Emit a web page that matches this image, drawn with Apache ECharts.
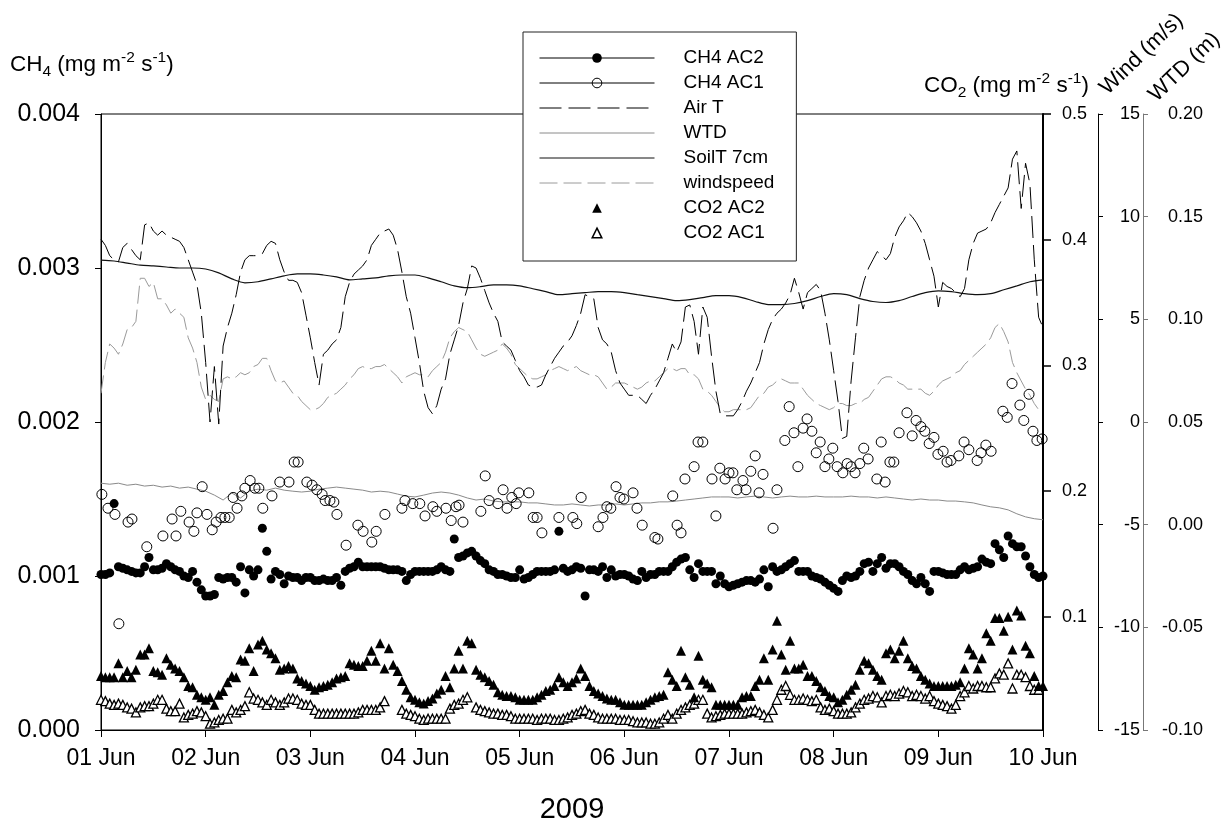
<!DOCTYPE html>
<html>
<head>
<meta charset="utf-8">
<title>CH4 and CO2 fluxes, 01-10 June 2009</title>
<script src="https://cdn.jsdelivr.net/npm/echarts@6/dist/echarts.min.js"></script>
<style>
  html, body { margin: 0; background: #fff; }
  #chart { width: 1221px; height: 829px; }
</style>
</head>
<body>
<div id="chart"></div>
<script>
// x is hours since 01 Jun 2009 00:00 (216 h = 10 Jun 00:00)
const DAY_LABELS = ['01 Jun', '02 Jun', '03 Jun', '04 Jun', '05 Jun', '06 Jun', '07 Jun', '08 Jun', '09 Jun', '10 Jun'];
const CO2_TICKS = [0.1, 0.2, 0.3, 0.4, 0.5];

// CH4 AC2, hourly, in ug m-2 s-1 (axis is mg m-2 s-1)
const CH4_AC2 = [
  1.01, 1.01, 1.02, 1.47, 1.06, 1.05, 1.04, 1.03, 1.02, 1.02, 1.06, 1.12, 1.04, 1.04, 1.05, 1.08, 1.06, 1.04, 1.03, 1.00, 0.99, 1.03, 0.96, 0.91,
  0.87, 0.87, 0.88, 0.99, 0.98, 0.99, 0.99, 0.96, 1.06, 0.89, 1.04, 1.00, 1.04, 1.31, 1.16, 0.98, 1.03, 1.01, 0.95, 1.00, 0.99, 0.99, 0.97, 0.99,
  0.99, 0.97, 0.97, 0.98, 0.97, 0.97, 0.99, 0.94, 1.03, 1.05, 1.06, 1.09, 1.06, 1.06, 1.06, 1.06, 1.06, 1.05, 1.04, 1.04, 1.04, 1.03, 0.97, 1.01,
  1.03, 1.03, 1.03, 1.03, 1.03, 1.04, 1.06, 1.04, 1.03, 1.24, 1.12, 1.13, 1.15, 1.16, 1.13, 1.10, 1.08, 1.04, 1.03, 1.01, 1.01, 1.00, 0.99, 0.99,
  1.04, 0.98, 0.99, 1.01, 1.03, 1.03, 1.03, 1.03, 1.04, 1.29, 1.05, 1.03, 1.04, 1.06, 1.05, 0.87, 1.04, 1.04, 1.03, 1.06, 0.99, 1.04, 1.00, 1.01,
  1.01, 1.00, 0.98, 0.97, 1.03, 0.99, 1.01, 1.01, 1.03, 1.03, 1.03, 1.06, 1.09, 1.11, 1.12, 1.04, 0.99, 1.08, 1.03, 1.03, 1.03, 0.95, 1.00, 0.95,
  0.93, 0.94, 0.95, 0.96, 0.97, 0.97, 0.96, 0.98, 1.04, 0.93, 1.06, 1.03, 1.04, 1.06, 1.08, 1.10, 1.03, 1.03, 1.03, 1.00, 0.99, 0.98, 0.96, 0.94,
  0.92, 0.90, 0.97, 1.00, 0.99, 1.00, 1.03, 1.08, 1.09, 1.03, 1.08, 1.12, 1.05, 1.08, 1.08, 1.06, 1.03, 1.01, 0.97, 0.95, 0.99, 0.95, 0.90, 1.03,
  1.03, 1.02, 1.01, 1.01, 1.01, 1.04, 1.06, 1.04, 1.05, 1.06, 1.11, 1.09, 1.08, 1.21, 1.17, 1.12, 1.26, 1.21, 1.19, 1.19, 1.13, 1.06, 1.01, 0.99,
  1.00
];

// CH4 AC1, irregular samples: [hour, ug m-2 s-1]
const CH4_AC1 = [
  [0.2, 1.53], [1.6, 1.44], [3.2, 1.40], [4.1, 0.69], [6.2, 1.35], [7.1, 1.37], [10.5, 1.19], [14.2, 1.26], [16.3, 1.37], [17.2, 1.26],
  [18.3, 1.42], [20.2, 1.35], [21.3, 1.29], [22.0, 1.41], [23.2, 1.58], [24.3, 1.40], [25.5, 1.30], [26.4, 1.35], [27.5, 1.38], [28.4, 1.38],
  [29.4, 1.38], [30.3, 1.51], [31.2, 1.44], [32.3, 1.52], [33.0, 1.57], [34.2, 1.62], [35.3, 1.57], [36.2, 1.57], [37.1, 1.44], [39.2, 1.52],
  [41.0, 1.61], [43.1, 1.61], [44.3, 1.74], [45.2, 1.74], [47.2, 1.61], [48.4, 1.59], [49.5, 1.56], [50.7, 1.53], [51.4, 1.49], [52.5, 1.49],
  [53.4, 1.48], [54.1, 1.40], [56.2, 1.20], [58.9, 1.33], [60.1, 1.29], [62.1, 1.22], [63.1, 1.29], [65.1, 1.40], [69.0, 1.44], [69.7, 1.49],
  [71.5, 1.47], [73.1, 1.47], [74.3, 1.39], [76.1, 1.45], [77.0, 1.42], [79.1, 1.44], [80.3, 1.36], [81.4, 1.45], [82.1, 1.46], [83.0, 1.35],
  [87.1, 1.42], [88.1, 1.65], [89.0, 1.49], [91.0, 1.47], [92.2, 1.56], [93.1, 1.44], [94.2, 1.51], [95.2, 1.47], [95.8, 1.54], [98.1, 1.54],
  [99.1, 1.38], [100.0, 1.38], [101.1, 1.28], [105.0, 1.38], [108.2, 1.38], [109.1, 1.34], [110.1, 1.51], [114.0, 1.32], [115.1, 1.38], [116.0, 1.45],
  [116.9, 1.44], [118.1, 1.58], [119.0, 1.51], [119.9, 1.50], [122.0, 1.54], [122.9, 1.44], [124.1, 1.33], [127.0, 1.25], [127.7, 1.24], [131.1, 1.52],
  [132.1, 1.33], [133.0, 1.28], [133.9, 1.63], [136.0, 1.71], [136.9, 1.87], [138.0, 1.87], [140.1, 1.63], [141.0, 1.39], [141.9, 1.70], [143.1, 1.63],
  [144.0, 1.67], [144.9, 1.67], [145.8, 1.56], [147.2, 1.62], [147.9, 1.56], [149.0, 1.68], [150.0, 1.78], [150.9, 1.54], [151.8, 1.66], [154.1, 1.31],
  [155.0, 1.56], [156.8, 1.88], [157.8, 2.10], [158.9, 1.93], [159.8, 1.71], [161.0, 1.96], [161.9, 2.02], [163.0, 1.94], [164.0, 1.80], [164.9, 1.87],
  [166.0, 1.71], [166.9, 1.76], [167.8, 1.83], [168.8, 1.71], [170.1, 1.67], [171.1, 1.73], [172.0, 1.71], [172.9, 1.67], [174.0, 1.73], [174.9, 1.83],
  [175.9, 1.76], [177.9, 1.63], [178.9, 1.87], [179.8, 1.61], [180.9, 1.74], [181.8, 1.74], [183.0, 1.93], [184.8, 2.06], [186.0, 1.91], [186.9, 2.01],
  [188.0, 1.97], [188.9, 1.94], [189.9, 1.86], [191.0, 1.90], [191.9, 1.79], [193.1, 1.81], [194.0, 1.74], [194.9, 1.75], [196.7, 1.78], [197.9, 1.87],
  [199.0, 1.82], [200.9, 1.75], [201.8, 1.80], [202.9, 1.85], [204.1, 1.81], [206.8, 2.07], [207.8, 2.03], [208.9, 2.25], [210.7, 2.11], [211.6, 2.01],
  [212.8, 2.18], [213.7, 1.94], [214.6, 1.88], [215.8, 1.89]
];

// Air temperature, hourly, deg C (wind axis scale)
const AIR_T = [
  8.9, 8.6, 8.1, 7.9, 7.8, 8.5, 8.7, 8.4, 8.1, 7.9, 9.6, 9.7, 9.3, 9.1, 9.3, 9.1, 9.0, 8.9, 8.8, 8.5, 7.9, 7.3, 6.7, 5.3,
  2.9, 0.0, 2.7, -0.1, 3.7, 4.6, 5.3, 6.2, 7.3, 7.9, 8.1, 8.1, 8.1, 8.2, 8.6, 8.8, 8.7, 7.9, 7.3, 6.9, 6.9, 6.8, 6.3, 5.2,
  4.1, 2.9, 1.8, 3.3, 3.5, 3.8, 4.0, 4.6, 6.1, 6.8, 7.2, 7.4, 7.6, 7.9, 8.6, 8.9, 9.2, 9.3, 9.4, 9.1, 8.4, 7.3, 6.1, 5.3,
  4.1, 2.9, 1.5, 0.7, 0.4, 0.8, 1.6, 2.1, 3.3, 4.0, 4.7, 5.8, 6.5, 7.6, 7.5, 7.0, 6.4, 5.8, 5.3, 4.9, 3.9, 3.7, 3.5, 3.0,
  2.5, 2.2, 1.8, 1.7, 1.7, 1.8, 2.3, 2.7, 3.1, 3.4, 3.7, 3.9, 4.2, 4.7, 5.3, 6.2, 6.1, 6.0, 4.6, 4.0, 3.8, 3.4, 2.5, 1.9,
  1.6, 1.3, 1.3, 1.3, 1.1, 0.9, 1.3, 1.6, 2.0, 2.4, 3.1, 3.8, 3.4, 3.9, 5.6, 5.7, 4.9, 3.3, 5.6, 5.1, 3.2, 1.5, 0.4, 0.3,
  0.3, 0.3, 0.6, 1.0, 1.5, 1.9, 2.4, 2.9, 3.8, 4.5, 5.0, 5.3, 5.5, 5.8, 6.2, 7.0, 6.3, 5.5, 6.3, 6.5, 6.7, 6.4, 5.3, 4.0,
  2.5, 1.0, -0.8, -0.7, 2.0, 4.1, 6.1, 6.9, 7.5, 7.9, 8.3, 8.1, 7.9, 8.2, 9.0, 9.5, 9.8, 10.2, 10.0, 9.7, 9.3, 8.7, 7.9, 7.1,
  5.6, 6.8, 6.6, 6.5, 6.3, 6.1, 6.5, 7.9, 8.7, 9.2, 9.3, 9.4, 9.7, 10.2, 10.6, 11.0, 11.4, 12.8, 13.2, 10.4, 12.6, 11.6, 7.9, 5.1,
  4.6
];

// Water table depth, every 2 h, m
const WTD = [
  0.0202, 0.0197, 0.0202, 0.0192, 0.0197, 0.0188, 0.0192, 0.0183, 0.0188, 0.0178, 0.0183, 0.0173,
  0.0163, 0.0144, 0.0120, 0.0154, 0.0130, 0.0163, 0.0173, 0.0168, 0.0178, 0.0168, 0.0163, 0.0159,
  0.0163, 0.0173, 0.0178, 0.0183, 0.0178, 0.0173, 0.0168, 0.0159, 0.0163, 0.0159, 0.0149, 0.0139,
  0.0135, 0.0144, 0.0154, 0.0159, 0.0154, 0.0144, 0.0130, 0.0120, 0.0125, 0.0115, 0.0111, 0.0111,
  0.0111, 0.0106, 0.0106, 0.0101, 0.0096, 0.0096, 0.0101, 0.0096, 0.0091, 0.0096, 0.0096, 0.0101,
  0.0096, 0.0101, 0.0106, 0.0106, 0.0111, 0.0111, 0.0115, 0.0120, 0.0125, 0.0130, 0.0135, 0.0135,
  0.0135, 0.0130, 0.0135, 0.0139, 0.0135, 0.0130, 0.0135, 0.0139, 0.0135, 0.0135, 0.0139, 0.0135,
  0.0135, 0.0135, 0.0139, 0.0135, 0.0135, 0.0130, 0.0135, 0.0130, 0.0125, 0.0120, 0.0125, 0.0120,
  0.0120, 0.0115, 0.0115, 0.0111, 0.0106, 0.0096, 0.0087, 0.0082, 0.0072, 0.0053, 0.0038, 0.0029, 0.0024
];

// Soil temperature at 7 cm, every 3 h, deg C
const SOIL_T = [
  7.88, 7.84, 7.74, 7.64, 7.60, 7.55, 7.50, 7.50, 7.45, 7.26, 6.97, 6.78, 6.83, 6.97, 7.12, 7.21, 7.21, 7.16, 7.07, 6.92, 6.97, 7.02, 7.12, 7.16,
  7.16, 7.02, 6.83, 6.63, 6.54, 6.59, 6.68, 6.68, 6.63, 6.49, 6.35, 6.20, 6.25, 6.30, 6.35, 6.35, 6.30, 6.20, 6.11, 6.01, 5.91, 5.96, 6.06, 6.15,
  6.15, 6.06, 5.87, 5.72, 5.72, 5.77, 5.91, 6.11, 6.25, 6.20, 6.01, 5.87, 5.82, 5.91, 6.11, 6.30, 6.39, 6.35, 6.25, 6.20, 6.25, 6.44, 6.63, 6.83,
  6.92
];

// Wind speed, hourly, m/s
const WIND = [
  1.4, 2.9, 3.8, 3.6, 3.3, 3.8, 4.5, 4.6, 4.9, 7.0, 7.0, 6.6, 6.8, 6.0, 6.0, 5.7, 5.3, 5.5, 5.3, 5.1, 4.1, 3.6, 2.9, 1.7,
  1.1, 1.3, 1.1, 1.0, 2.1, 2.2, 2.1, 2.2, 2.4, 2.3, 2.4, 2.7, 2.8, 3.1, 3.1, 2.5, 2.0, 1.9, 2.0, 1.7, 1.4, 1.3, 1.0, 0.8,
  0.6, 0.6, 0.7, 0.9, 1.2, 1.3, 1.4, 1.6, 1.8, 2.1, 2.3, 2.6, 2.7, 2.6, 2.6, 2.7, 2.7, 2.8, 2.6, 2.4, 2.2, 1.9, 2.2, 2.3,
  2.4, 2.3, 2.3, 2.2, 2.5, 2.7, 2.9, 3.4, 4.1, 4.4, 4.6, 4.5, 4.4, 4.0, 3.6, 3.3, 3.2, 3.3, 3.4, 3.5, 3.8, 3.6, 3.3, 2.8,
  2.6, 2.4, 2.2, 2.1, 2.1, 2.2, 2.3, 2.5, 2.6, 2.7, 2.6, 2.5, 2.6, 2.7, 2.5, 2.4, 2.3, 2.3, 2.2, 1.9, 1.6, 1.7, 1.9, 1.9,
  1.9, 1.8, 1.7, 1.6, 1.7, 1.9, 2.0, 2.0, 2.2, 2.4, 2.6, 2.6, 2.5, 2.6, 2.6, 2.3, 2.3, 2.1, 1.6, 1.5, 1.3, 1.0, 0.7, 0.5,
  0.5, 0.6, 0.6, 0.6, 0.6, 0.7, 1.0, 1.3, 1.4, 1.7, 1.8, 2.0, 2.1, 2.0, 1.9, 1.9, 1.9, 1.6, 1.3, 1.1, 0.9, 0.8, 0.7, 0.6,
  0.7, 0.9, 0.9, 0.8, 0.8, 0.9, 0.9, 1.1, 1.2, 1.5, 1.8, 2.1, 2.2, 2.2, 2.1, 1.9, 1.8, 1.6, 1.6, 1.6, 1.6, 1.4, 1.3, 1.5,
  1.8, 2.0, 2.1, 2.2, 2.4, 2.5, 2.8, 3.0, 3.2, 3.4, 3.6, 3.8, 4.1, 4.6, 4.8, 4.4, 3.9, 2.9, 2.4, 2.0, 1.6, 1.3, 0.9, 0.6,
  0.5
];

// CO2 AC2, hourly, mg m-2 s-1
const CO2_AC2 = [
  0.053, 0.052, 0.052, 0.052, 0.063, 0.052, 0.057, 0.052, 0.058, 0.070, 0.070, 0.075, 0.057, 0.056, 0.054, 0.067, 0.062, 0.059, 0.057, 0.052, 0.045, 0.044, 0.038, 0.036,
  0.034, 0.036, 0.030, 0.038, 0.041, 0.048, 0.053, 0.052, 0.066, 0.065, 0.075, 0.057, 0.078, 0.081, 0.074, 0.071, 0.067, 0.058, 0.059, 0.061, 0.059, 0.051, 0.049, 0.047,
  0.045, 0.042, 0.044, 0.045, 0.046, 0.048, 0.051, 0.052, 0.053, 0.063, 0.062, 0.061, 0.061, 0.065, 0.073, 0.065, 0.079, 0.059, 0.075, 0.062, 0.057, 0.049, 0.042, 0.036,
  0.034, 0.032, 0.031, 0.033, 0.035, 0.039, 0.042, 0.053, 0.044, 0.059, 0.073, 0.059, 0.081, 0.079, 0.058, 0.054, 0.052, 0.049, 0.046, 0.040, 0.038, 0.037, 0.037, 0.036,
  0.034, 0.034, 0.034, 0.034, 0.036, 0.038, 0.041, 0.042, 0.045, 0.052, 0.048, 0.045, 0.048, 0.051, 0.059, 0.053, 0.045, 0.041, 0.039, 0.037, 0.035, 0.034, 0.034, 0.032,
  0.030, 0.030, 0.030, 0.030, 0.030, 0.032, 0.034, 0.036, 0.037, 0.038, 0.056, 0.050, 0.045, 0.073, 0.052, 0.046, 0.036, 0.069, 0.050, 0.047, 0.044, 0.030, 0.030, 0.030,
  0.030, 0.030, 0.030, 0.036, 0.037, 0.037, 0.045, 0.050, 0.067, 0.050, 0.074, 0.097, 0.070, 0.058, 0.081, 0.059, 0.059, 0.062, 0.053, 0.053, 0.049, 0.044, 0.041, 0.037,
  0.036, 0.032, 0.034, 0.038, 0.042, 0.046, 0.058, 0.065, 0.063, 0.058, 0.053, 0.050, 0.071, 0.074, 0.067, 0.073, 0.081, 0.067, 0.061, 0.059, 0.053, 0.050, 0.047, 0.045,
  0.045, 0.045, 0.045, 0.045, 0.046, 0.048, 0.059, 0.075, 0.070, 0.059, 0.067, 0.087, 0.081, 0.099, 0.099, 0.089, 0.100, 0.074, 0.105, 0.101, 0.077, 0.071, 0.053, 0.045,
  0.045
];

// CO2 AC1, hourly, mg m-2 s-1 (null = no data)
const CO2_AC1 = [
  0.034, 0.033, 0.031, 0.030, 0.031, 0.030, 0.028, 0.027, 0.024, 0.028, 0.029, 0.029, 0.031, 0.034, 0.034, 0.027, 0.025, 0.025, 0.031, 0.020, 0.022, 0.023, 0.025, 0.024,
  0.021, 0.015, 0.016, 0.018, 0.019, 0.019, 0.026, 0.024, 0.026, 0.029, 0.040, 0.035, 0.034, 0.032, 0.030, 0.034, 0.032, 0.030, 0.032, 0.035, 0.035, 0.034, 0.031, 0.030,
  0.030, 0.026, 0.023, 0.023, 0.023, 0.023, 0.023, 0.023, 0.023, 0.023, 0.023, 0.024, 0.026, 0.026, 0.026, 0.026, 0.028, 0.033, null, null, null, 0.026, 0.023, 0.022,
  0.021, 0.019, 0.018, 0.019, 0.019, 0.019, 0.019, 0.019, 0.027, 0.030, 0.031, 0.034, 0.036, null, 0.028, 0.026, 0.025, 0.024, 0.023, 0.023, 0.022, 0.022, 0.021,
  0.019, 0.019, 0.019, 0.019, 0.019, 0.018, 0.019, 0.019, 0.019, 0.018, 0.018, 0.019, 0.020, 0.022, 0.023, 0.025, 0.026, 0.023, 0.022, 0.020, 0.019, 0.019, 0.019, 0.019,
  0.018, 0.018, 0.018, 0.017, 0.016, 0.016, 0.016, 0.015, 0.015, 0.016, 0.019, 0.022, 0.019, 0.023, 0.026, 0.028, 0.030, 0.031, 0.034, 0.034, 0.023, 0.020, 0.021, 0.022,
  0.023, 0.023, 0.023, 0.023, 0.023, 0.024, 0.025, 0.026, 0.024, 0.022, 0.020, 0.026, 0.034, 0.042, 0.045, 0.038, 0.034, 0.034, 0.035, 0.034, 0.033, 0.034, 0.028, 0.026,
  0.027, 0.025, 0.023, 0.023, 0.023, 0.024, 0.028, 0.031, 0.034, 0.035, 0.037, 0.036, 0.032, 0.037, 0.038, 0.037, 0.039, 0.041, 0.040, 0.037, 0.038, 0.037, 0.035, 0.037,
  0.033, 0.031, 0.030, 0.029, 0.027, 0.030, 0.037, 0.040, 0.045, 0.043, 0.045, 0.045, 0.044, 0.044, 0.051, 0.055, 0.054, 0.063, 0.043, 0.054, 0.054, 0.052, 0.045, 0.042,
  0.042
];

const FONT = "'Liberation Sans', Arial, sans-serif";

const series = (arr, step) => arr.map((v, i) => [i * step, v]);
const ugToMg = (v) => (v == null ? null : v / 1000);

const chart = echarts.init(document.getElementById('chart'), null, { renderer: 'canvas' });

const titleRich = {
  b: { fontSize: 22.5, lineHeight: 30, verticalAlign: 'middle', fontFamily: FONT, color: '#000' },
  s: { fontSize: 15.5, lineHeight: 15, verticalAlign: 'bottom', fontFamily: FONT, color: '#000' },
  p: { fontSize: 15.5, lineHeight: 15, verticalAlign: 'top', fontFamily: FONT, color: '#000' }
};

// marker-only series are drawn as 'line' with an invisible line so the legend
// shows a properly proportioned symbol (and a line through it for CH4)
const markerSeries = (name, axis, data, symbol, size, itemStyle, z) => ({
  name, type: 'line', yAxisIndex: axis, data, symbol, symbolSize: size,
  showSymbol: true, showAllSymbol: true, silent: true, connectNulls: false,
  lineStyle: { opacity: 0 }, itemStyle, z
});

chart.setOption({
  animation: false,
  backgroundColor: '#fff',
  grid: { left: 101, right: 178, top: 114, bottom: 91, show: true, borderColor: '#000', borderWidth: 1, backgroundColor: 'transparent' },
  legend: {
    orient: 'vertical',
    left: 523,
    top: 32,
    padding: [13.5, 22, 15.5, 16],
    itemWidth: 115,
    itemHeight: 12,
    itemGap: 0,
    selectedMode: false,
    backgroundColor: '#fff',
    borderColor: '#222',
    borderWidth: 1,
    borderRadius: 0,
    lineStyle: { width: 1 },
    textStyle: { fontFamily: FONT, fontSize: 19, color: '#000', lineHeight: 25, padding: [0, 0, 0, 24] },
    data: [
      { name: 'CH4 AC2', lineStyle: { opacity: 1, width: 1, color: '#000' } },
      { name: 'CH4 AC1', lineStyle: { opacity: 1, width: 1, color: '#000' }, itemStyle: { borderWidth: 1 } },
      { name: 'Air T', itemStyle: { opacity: 0 } },
      { name: 'WTD', itemStyle: { opacity: 0 } },
      { name: 'SoilT 7cm', itemStyle: { opacity: 0 } },
      { name: 'windspeed', itemStyle: { opacity: 0 } },
      { name: 'CO2 AC2' },
      { name: 'CO2 AC1', itemStyle: { borderWidth: 1.5 } }
    ]
  },
  xAxis: {
    type: 'value',
    min: 0,
    max: 216,
    interval: 24,
    name: '2009',
    nameLocation: 'middle',
    nameGap: 65,
    nameTextStyle: { fontFamily: FONT, fontSize: 29, color: '#000' },
    axisLine: { lineStyle: { color: '#000', width: 1 } },
    axisTick: { length: 7, lineStyle: { color: '#000' } },
    axisLabel: { margin: 17, fontFamily: FONT, fontSize: 23, color: '#000', formatter: (v) => DAY_LABELS[Math.round(v / 24)] },
    splitLine: { show: false }
  },
  yAxis: [
    {
      type: 'value', position: 'left', min: 0, max: 0.004, interval: 0.001,
      axisLine: { show: true, lineStyle: { color: '#000', width: 1 } },
      axisTick: { show: true, length: 6, lineStyle: { color: '#000' } },
      axisLabel: { margin: 21, fontFamily: FONT, fontSize: 25, color: '#000', formatter: (v) => v.toFixed(3) },
      splitLine: { show: false }
    },
    {
      type: 'value', position: 'right', min: 0.01, max: 0.5,
      axisLine: { show: true, lineStyle: { color: '#000', width: 2 } },
      axisTick: { show: true, length: 8, customValues: CO2_TICKS, lineStyle: { color: '#000', width: 1.5 } },
      axisLabel: { margin: 19, fontFamily: FONT, fontSize: 18, color: '#000', customValues: CO2_TICKS, formatter: (v) => v.toFixed(1) },
      splitLine: { show: false }
    },
    {
      type: 'value', position: 'right', offset: 55, min: -15, max: 15, interval: 5,
      axisLine: { show: true, lineStyle: { color: '#000', width: 1 } },
      axisTick: { show: true, length: 5, lineStyle: { color: '#000' } },
      axisLabel: { margin: 42, align: 'right', fontFamily: FONT, fontSize: 18, color: '#000' },
      splitLine: { show: false }
    },
    {
      type: 'value', position: 'right', offset: 100, min: -0.1, max: 0.2, interval: 0.05,
      axisLine: { show: true, lineStyle: { color: '#777', width: 1 } },
      axisTick: { show: true, length: 5, lineStyle: { color: '#777' } },
      axisLabel: {
        margin: 60, align: 'right', fontFamily: FONT, fontSize: 18, color: '#000',
        formatter: (v) => (Math.abs(v) < 1e-9 ? '0.00' : v.toFixed(2))
      },
      splitLine: { show: false }
    }
  ],
  graphic: [
    { type: 'text', x: 10, y: 50, style: { text: '{b|CH}{s|4}{b| (mg m}{p|-2}{b| s}{p|-1}{b|)}', rich: titleRich, textAlign: 'left', verticalAlign: 'top' } },
    { type: 'text', x: 924, y: 71, style: { text: '{b|CO}{s|2}{b| (mg m}{p|-2}{b| s}{p|-1}{b|)}', rich: titleRich, textAlign: 'left', verticalAlign: 'top' } },
    { type: 'text', x: 1111, y: 99, rotation: 44 * Math.PI / 180, style: { text: 'Wind (m/s)', fontFamily: FONT, fontSize: 22, fill: '#000', textAlign: 'left', verticalAlign: 'bottom' } },
    { type: 'text', x: 1160, y: 106, rotation: 44 * Math.PI / 180, style: { text: 'WTD (m)', fontFamily: FONT, fontSize: 22, fill: '#000', textAlign: 'left', verticalAlign: 'bottom' } }
  ],
  series: [
    {
      name: 'WTD', type: 'line', yAxisIndex: 3, data: series(WTD, 2), symbol: 'none', silent: true,
      lineStyle: { color: '#8a8a8a', width: 1 }, itemStyle: { color: '#8a8a8a' }, z: 2
    },
    {
      name: 'windspeed', type: 'line', yAxisIndex: 2, data: series(WIND, 1), symbol: 'none', silent: true,
      lineStyle: { color: '#9a9a9a', width: 1, type: [18, 6] }, itemStyle: { color: '#9a9a9a' }, z: 2
    },
    {
      name: 'SoilT 7cm', type: 'line', yAxisIndex: 2, data: series(SOIL_T, 3), symbol: 'none', smooth: 0.3, silent: true,
      lineStyle: { color: '#111', width: 1.2 }, itemStyle: { color: '#111' }, z: 3
    },
    {
      name: 'Air T', type: 'line', yAxisIndex: 2, data: series(AIR_T, 1), symbol: 'none', silent: true,
      lineStyle: { color: '#000', width: 1, type: [22, 7] }, itemStyle: { color: '#000' }, z: 3
    },
    markerSeries('CH4 AC1', 0, CH4_AC1.map(([h, v]) => [h, ugToMg(v)]), 'circle', 10,
      { color: 'rgba(0,0,0,0)', borderColor: '#000', borderWidth: 1 }, 4),
    markerSeries('CH4 AC2', 0, series(CH4_AC2.map(ugToMg), 1), 'circle', 9, { color: '#000' }, 5),
    markerSeries('CO2 AC1', 1, series(CO2_AC1, 1), 'triangle', 9,
      { color: '#fff', borderColor: '#000', borderWidth: 1.3 }, 4),
    markerSeries('CO2 AC2', 1, series(CO2_AC2, 1), 'triangle', 10, { color: '#000' }, 5)
  ]
});
</script>
</body>
</html>
